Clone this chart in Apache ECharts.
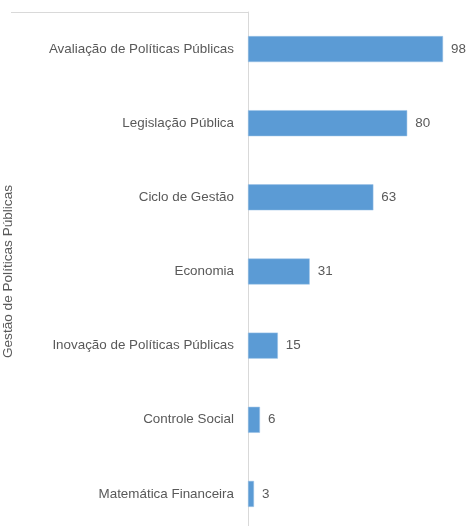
<!DOCTYPE html>
<html><head><meta charset="utf-8">
<script src="https://cdn.jsdelivr.net/npm/echarts@6/dist/echarts.min.js"></script>
<style>html,body{margin:0;padding:0;background:#fff}#c{width:471px;height:526px}</style>
</head><body><div id="c"></div>
<script>
const categories = ["Avaliação de Políticas Públicas","Legislação Pública","Ciclo de Gestão","Economia","Inovação de Políticas Públicas","Controle Social","Matemática Financeira"];
const values = [98,80,63,31,15,6,3];
const groupName = "Gestão de Políticas Públicas";
const font = "'Liberation Sans', Arial, sans-serif";
const chart = echarts.init(document.getElementById('c'), null, {renderer:'canvas'});
chart.setOption({
  animation:false,
  grid:{left:248, width:199, top:12, height:519, outerBoundsMode:'none', containLabel:false},
  xAxis:{type:'value', min:0, max:100, show:false},
  yAxis:{type:'category', data:categories, inverse:true,
    axisLine:{show:true, lineStyle:{color:'#d9d9d9', width:1}},
    axisTick:{show:true, length:237, interval:(i)=>i===0, lineStyle:{color:'#d9d9d9'}},
    axisLabel:{color:'#595959', fontSize:13.4, fontFamily:font, margin:14},
    name:groupName, nameLocation:'middle', nameRotate:90, nameGap:233,
    nameTextStyle:{color:'#595959', fontSize:13.6, fontFamily:font},
    splitLine:{show:false}
  },
  series:[{type:'bar', data:values, barWidth:26,
    itemStyle:{color:'#5b9bd5', borderColor:'#9dc3e6', borderWidth:0.5},
    label:{show:true, position:'right', distance:8, color:'#595959', fontSize:13.4, fontFamily:font}
  }]
});
</script></body></html>
